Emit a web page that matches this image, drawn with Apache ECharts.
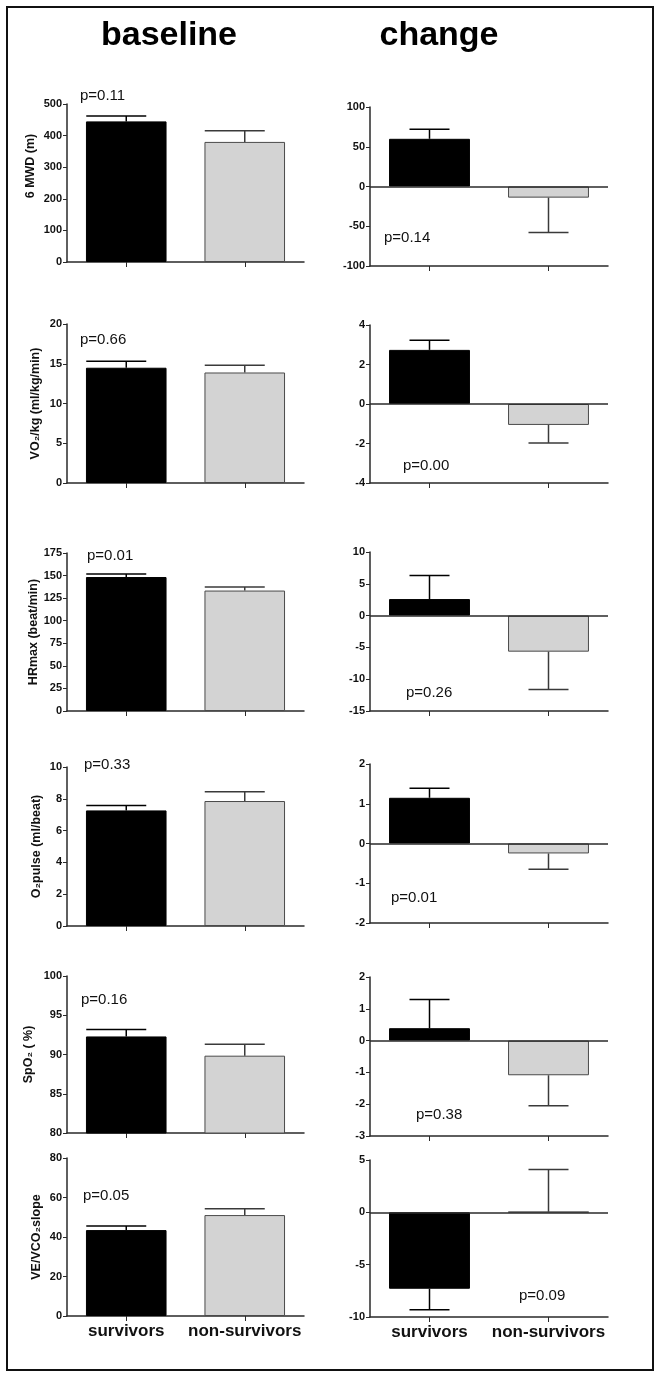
<!DOCTYPE html>
<html>
<head>
<meta charset="utf-8">
<script src="https://cdn.jsdelivr.net/npm/echarts@6/dist/echarts.min.js"></script>
<style>
html,body{margin:0;padding:0;background:#fff;}
#chart{width:661px;height:1378px;}
</style>
</head>
<body>
<div id="chart"></div>
<script>
// ---- data ----
const categories = ['survivors', 'non-survivors'];
const columnTitles = ['baseline', 'change'];
const yNames = ['6 MWD (m)', 'VO\u2082/kg (ml/kg/min)', 'HRmax (beat/min)', 'O\u2082pulse (ml/beat)', 'SpO\u2082 ( %)', 'VE/VCO\u2082slope'];

const baseMeans = [[445, 380], [14.5, 13.9], [148.4, 133.4], [7.27, 7.86], [92.3, 89.85], [43.5, 51.1]];
const baseErrEnds = [[462, 415], [15.3, 14.8], [151.7, 137.3], [7.58, 8.44], [93.2, 91.3], [45.6, 54.3]];
const changeMeans = [[60, -14], [2.74, -1.06], [2.6, -5.67], [1.15, -0.25], [0.39, -1.09], [-7.3, 0.05]];
const changeErrEnds = [[72, -58], [3.23, -1.97], [6.3, -11.6], [1.39, -0.65], [1.29, -2.05], [-9.3, 4.1]];

const baseMin = [0, 0, 0, 0, 80, 0];
const baseMax = [500, 20, 175, 10, 100, 80];
const baseInterval = [100, 5, 25, 2, 5, 20];
const changeMin = [-100, -4, -15, -2, -3, -10];
const changeMax = [100, 4, 10, 2, 2, 5];
const changeInterval = [50, 2, 5, 1, 1, 5];

const pBase = ['p=0.11', 'p=0.66', 'p=0.01', 'p=0.33', 'p=0.16', 'p=0.05'];
const pChange = ['p=0.14', 'p=0.00', 'p=0.26', 'p=0.01', 'p=0.38', 'p=0.09'];

// ---- layout (styles / positions) ----
const FONT = '"Liberation Sans", Arial, Helvetica, sans-serif';
const leftGrids = [[104, 158], [324, 159], [553, 158], [767, 159], [976, 157], [1158, 158]];
const rightGrids = [[107, 159], [325, 158], [552, 159], [764, 159], [977, 159], [1160, 157]];
const nameGaps = [30, 25, 25, 24, 32, 24];
const namePadShift = [34, 0, 0, 0, 0, 0];
const pBasePos = [[80, 97], [80, 341], [87, 557], [84, 766], [81, 1001], [83, 1197]];
const pChangePos = [[384, 239], [403, 467], [406, 694], [391, 899], [416, 1116], [519, 1297]];

const AXIS_COLOR = '#2a2a2a';
const BAR_COLORS = ['#000000', '#d3d3d3'];
const BAR_BORDERS = ['#000000', '#4a4a4a'];
const ERR_COLORS = ['#000000', '#3a3a3a'];

const grids = [], xAxes = [], yAxes = [], series = [], graphics = [];

function addPanel(idx, col) {
  const isBase = col === 0;
  const g = isBase ? leftGrids[idx] : rightGrids[idx];
  const gi = grids.length;
  grids.push({
    left: isBase ? 67 : 370,
    width: isBase ? 237 : 238,
    top: g[0],
    height: g[1]
  });
  const lastRow = idx === 5;
  xAxes.push({
    type: 'category',
    gridIndex: gi,
    data: categories,
    position: 'bottom',
    axisLine: { onZero: false, lineStyle: { color: AXIS_COLOR, width: 1.5 } },
    axisTick: { show: true, alignWithLabel: true, length: 5, lineStyle: { color: AXIS_COLOR, width: 1 } },
    axisLabel: {
      show: lastRow, interval: 0, margin: 7,
      fontFamily: FONT, fontSize: 17, fontWeight: 'bold', color: '#111'
    },
    splitLine: { show: false }
  });
  yAxes.push({
    type: 'value',
    gridIndex: gi,
    min: isBase ? baseMin[idx] : changeMin[idx],
    max: isBase ? baseMax[idx] : changeMax[idx],
    interval: isBase ? baseInterval[idx] : changeInterval[idx],
    name: isBase ? yNames[idx] : '',
    nameLocation: 'middle',
    nameGap: nameGaps[idx],
    nameTextStyle: {
      fontFamily: FONT, fontSize: 12.5, fontWeight: 'bold', color: '#111',
      padding: [0, 0, 0, namePadShift[idx]]
    },
    axisLine: { show: true, lineStyle: { color: AXIS_COLOR, width: 1.5 } },
    axisTick: { show: true, length: 4, lineStyle: { color: AXIS_COLOR, width: 1 } },
    axisLabel: { margin: 5, fontFamily: FONT, fontSize: 11, fontWeight: 'bold', color: '#111' },
    splitLine: { show: false }
  });
  const means = isBase ? baseMeans[idx] : changeMeans[idx];
  const ends = isBase ? baseErrEnds[idx] : changeErrEnds[idx];
  const barSeries = {
    type: 'bar',
    xAxisIndex: gi,
    yAxisIndex: gi,
    barWidth: '68%',
    clip: true,
    silent: true,
    data: means.map((v, i) => ({
      value: v,
      itemStyle: { color: BAR_COLORS[i], borderColor: BAR_BORDERS[i], borderWidth: 1 }
    })),
    z: 2
  };
  if (!isBase) {
    barSeries.markLine = {
      silent: true, symbol: 'none', label: { show: false },
      lineStyle: { color: AXIS_COLOR, type: 'solid', width: 1.5 },
      data: [{ yAxis: 0 }]
    };
  }
  series.push(barSeries);
  const capL = isBase ? 40 : 20;
  const capR = 20;
  series.push({
    type: 'custom',
    xAxisIndex: gi,
    yAxisIndex: gi,
    silent: true,
    z: 3,
    data: means.map((v, i) => [i, v, ends[i]]),
    encode: { x: 0, y: [1, 2] },
    renderItem: function (params, api) {
      const i = api.value(0);
      const p0 = api.coord([i, api.value(1)]);
      const p1 = api.coord([i, api.value(2)]);
      const color = ERR_COLORS[i];
      return {
        type: 'group',
        children: [
          { type: 'line', shape: { x1: p0[0], y1: p0[1], x2: p1[0], y2: p1[1] }, style: { stroke: color, lineWidth: 1.5 } },
          { type: 'line', shape: { x1: p1[0] - capL, y1: p1[1], x2: p1[0] + capR, y2: p1[1] }, style: { stroke: color, lineWidth: 1.5 } }
        ]
      };
    }
  });
  const pp = isBase ? pBasePos[idx] : pChangePos[idx];
  graphics.push({
    type: 'text', left: pp[0], top: pp[1] - 9,
    style: { text: isBase ? pBase[idx] : pChange[idx], font: '15px ' + FONT, fill: '#111' }
  });
}

for (let r = 0; r < 6; r++) { addPanel(r, 0); addPanel(r, 1); }

graphics.push({
  type: 'rect', shape: { x: 7, y: 7, width: 646, height: 1363 },
  style: { fill: 'none', stroke: '#111', lineWidth: 2 }, z: 10
});
graphics.push({
  type: 'text', x: 169, y: 36,
  style: { text: columnTitles[0], font: 'bold 34px ' + FONT, fill: '#000', textAlign: 'center', textVerticalAlign: 'middle' }
});
graphics.push({
  type: 'text', x: 439, y: 36,
  style: { text: columnTitles[1], font: 'bold 34px ' + FONT, fill: '#000', textAlign: 'center', textVerticalAlign: 'middle' }
});

const chart = echarts.init(document.getElementById('chart'), null, { renderer: 'canvas' });
chart.setOption({
  backgroundColor: '#fff',
  animation: false,
  grid: grids,
  xAxis: xAxes,
  yAxis: yAxes,
  series: series,
  graphic: graphics
});
</script>
</body>
</html>
